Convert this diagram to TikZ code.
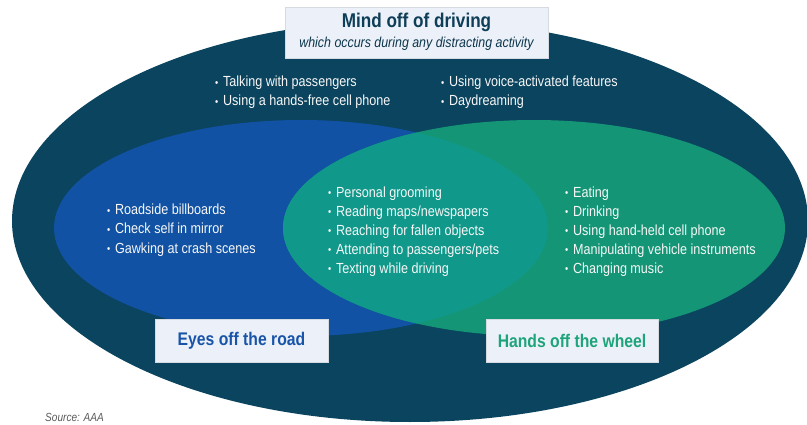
\documentclass[tikz,border=0pt]{standalone}
\usepackage{fontspec}
\usepackage{graphicx}
\setmainfont{Liberation Sans}[FakeStretch=0.86]
\usepackage{tikz}
\usetikzlibrary{
    positioning,
    calc
}
\definecolor{DeepNavy}{RGB}{11,68,94}
\definecolor{EyesBlue}{RGB}{17,82,164}
\definecolor{HandsGreen}{RGB}{20,150,118}
\definecolor{BothTeal}{RGB}{16,152,138}
\definecolor{PaleFill}{RGB}{236,241,249}
\definecolor{TitleInk}{RGB}{14,62,88}
\definecolor{EyesInk}{RGB}{24,84,168}
\definecolor{HandsInk}{RGB}{30,164,122}
\tikzset{
  labelbox/.style = {fill=PaleFill, draw=PaleFill!80!gray, line width=0.4pt,
                     inner sep=0pt, align=center},
  item/.style     = {anchor=base west, inner sep=0pt, text=white!94!gray,
                     font=\fontsize{12.5}{15}\selectfont}
}
\newcommand{\dotitem}{\raisebox{0.12ex}{\scalebox{0.72}{\textbullet}}\hspace{0.32em}}

\begin{document}
\begin{tikzpicture}[x=0.03cm, y=-0.03cm]
\useasboundingbox (0,0) rectangle (807,425);
% the three sets
\fill[DeepNavy] (410,221) ellipse [x radius=398, y radius=201];
\fill[EyesBlue] (301,228) ellipse [x radius=247, y radius=108];
\fill[HandsGreen] (534,228) ellipse [x radius=251, y radius=108];
\begin{scope}
  \clip (301,228) ellipse [x radius=247, y radius=108];
  \fill[BothTeal] (534,228) ellipse [x radius=251, y radius=108];
\end{scope}
% headings
\node[labelbox, minimum width=263*0.03cm, minimum height=51*0.03cm] (mind) at (416.5,32.5) {};
\node[text=TitleInk, font=\bfseries\fontsize{17}{20}\selectfont, anchor=base] (mindtitle) at (416.5,28) {Mind off of driving};
\node[text=TitleInk!85!black, font=\itshape\fontsize{12.3}{14}\selectfont, anchor=base] (mindsub) at (416.5,48) {which occurs during any distracting activity};
\node[labelbox, minimum width=173*0.03cm, minimum height=43*0.03cm, text=EyesInk,
      font=\bfseries\fontsize{15.6}{18}\selectfont] (eyes) at (241.5,340.5) {Eyes off the road};
\node[labelbox, minimum width=172*0.03cm, minimum height=43*0.03cm, text=HandsInk,
      font=\bfseries\fontsize{15.6}{18}\selectfont] (hands) at (572,340.5) {Hands off the wheel};
% lists
\foreach \txt [count=\i] in {Talking with passengers, Using a hands-free cell phone}
  \node[item] (mindA\i) at (215,{87+19*(\i-1)}) {\dotitem\txt};
\foreach \txt [count=\i] in {Using voice-activated features, Daydreaming}
  \node[item] (mindB\i) at (441,{87+19*(\i-1)}) {\dotitem\txt};
\foreach \txt [count=\i] in {Roadside billboards, Check self in mirror, Gawking at crash scenes}
  \node[item] (eyes\i) at (107,{215+19*(\i-1)}) {\dotitem\txt};
\foreach \txt [count=\i] in {Personal grooming, Reading maps/newspapers, Reaching for fallen objects,
                             Attending to passengers/pets, Texting while driving}
  \node[item] (both\i) at (328,{197+19*(\i-1)}) {\dotitem\txt};
\foreach \txt [count=\i] in {Eating, Drinking, Using hand-held cell phone,
                             Manipulating vehicle instruments, Changing music}
  \node[item] (hands\i) at (565,{197+19*(\i-1)}) {\dotitem\txt};
\node[anchor=base west, inner sep=0pt, text=black!65, font=\itshape\fontsize{10}{12}\selectfont] (source) at (45,421) {Source: AAA};
\end{tikzpicture}
\end{document}
